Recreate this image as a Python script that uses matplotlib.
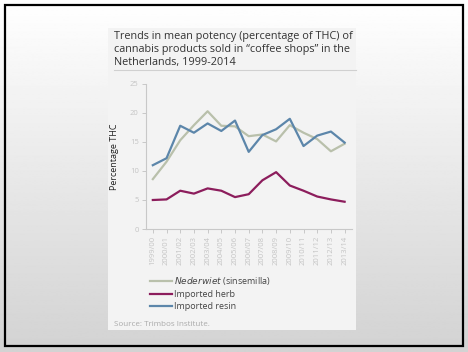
import numpy as np
import matplotlib
matplotlib.use("Agg")
import matplotlib.pyplot as plt
from matplotlib.patches import Rectangle
from matplotlib.lines import Line2D

years = ["1999/00", "2000/01", "2001/02", "2002/03", "2003/04", "2004/05", "2005/06",
         "2006/07", "2007/08", "2008/09", "2009/10", "2010/11", "2011/12", "2012/13", "2013/14"]
nederwiet = [8.6, 11.6, 15.3, 17.9, 20.3, 17.8, 17.7, 16.0, 16.3, 15.1, 17.9, 16.6, 15.5, 13.4, 14.7]
imported_herb = [5.0, 5.1, 6.6, 6.1, 7.0, 6.6, 5.5, 6.0, 8.4, 9.8, 7.5, 6.6, 5.6, 5.1, 4.7]
imported_resin = [11.0, 12.2, 17.8, 16.6, 18.2, 16.9, 18.7, 13.3, 16.2, 17.2, 19.0, 14.3, 16.1, 16.8, 14.9]
yticks = [0, 5, 10, 15, 20, 25]

c_ned = "#b9c0ab"
c_herb = "#8c1d5c"
c_resin = "#5c86aa"

plt.rcParams['font.family'] = ['Open Sans', 'DejaVu Sans']

W, H = 468, 352
fig = plt.figure(figsize=(W / 100, H / 100), dpi=100)

# background gradient
bg = fig.add_axes([0, 0, 1, 1], zorder=-10)
grad = np.linspace(1.0, 0.88, 256) ** 1.5
grad = grad.reshape(-1, 1)
bg.imshow(grad, cmap="gray", vmin=0, vmax=1, aspect="auto", extent=[0, W, H, 0])
bg.set_xlim(0, W)
bg.set_ylim(H, 0)
bg.axis("off")
bg.add_patch(Rectangle((5, 5), 458, 341, fill=False, edgecolor="black", linewidth=1.6))
bg.add_patch(Rectangle((108, 28), 248, 302, facecolor="#f3f3f3", edgecolor="none"))
bg.plot([114, 356], [69.5, 69.5], color="#d0d0d0", linewidth=0.8)

fig.text(114 / W, 1 - 30.5 / H,
         "Trends in mean potency (percentage of THC) of\ncannabis products sold in \u201ccoffee shops\u201d in the\nNetherlands, 1999-2014",
         ha="left", va="top", fontsize=7.8, color="#333333", linespacing=1.27)

ax = fig.add_axes([145.7 / W, 1 - 229 / H, (352 - 145.7) / W, (229 - 84) / H])
ax.patch.set_alpha(0)
x = np.arange(len(years))
ax.plot(x, nederwiet, color=c_ned, linewidth=1.6)
ax.plot(x, imported_herb, color=c_herb, linewidth=1.6)
ax.plot(x, imported_resin, color=c_resin, linewidth=1.6)
ax.set_xlim(-0.52, 14.54)
ax.set_ylim(0, 25)
ax.set_yticks(yticks)
ax.set_xticks(x)
ax.set_xticklabels(years, rotation=90)
for s in ["top", "right"]:
    ax.spines[s].set_visible(False)
for s in ["left", "bottom"]:
    ax.spines[s].set_color("#c8c8c8")
    ax.spines[s].set_linewidth(0.8)
ax.tick_params(axis="both", colors="#c8c8c8", labelcolor="#c4c4c4", labelsize=5.5,
               length=3, width=0.7, pad=2)
ax.set_ylabel("Percentage THC", fontsize=6.5, color="#222222", labelpad=8)

# legend
handles = [Line2D([], [], color=c_ned, linewidth=1.6),
           Line2D([], [], color=c_herb, linewidth=1.6),
           Line2D([], [], color=c_resin, linewidth=1.6)]
labels = ["$\\it{Nederwiet}$ (sinsemilla)", "Imported herb", "Imported resin"]
leg = fig.legend(handles, labels, loc="upper left", bbox_to_anchor=(150 / W, 1 - 275 / H),
                 frameon=False, fontsize=6.5, handlelength=2.4, handletextpad=0.3,
                 labelspacing=0.35, borderaxespad=0, borderpad=0)
for t in leg.get_texts():
    t.set_color("#444444")

fig.text(114 / W, 1 - 324 / H, "Source: Trimbos Institute.", ha="left", va="center",
         fontsize=5.8, color="#aaaaaa")

fig.savefig("out.png", dpi=100)
